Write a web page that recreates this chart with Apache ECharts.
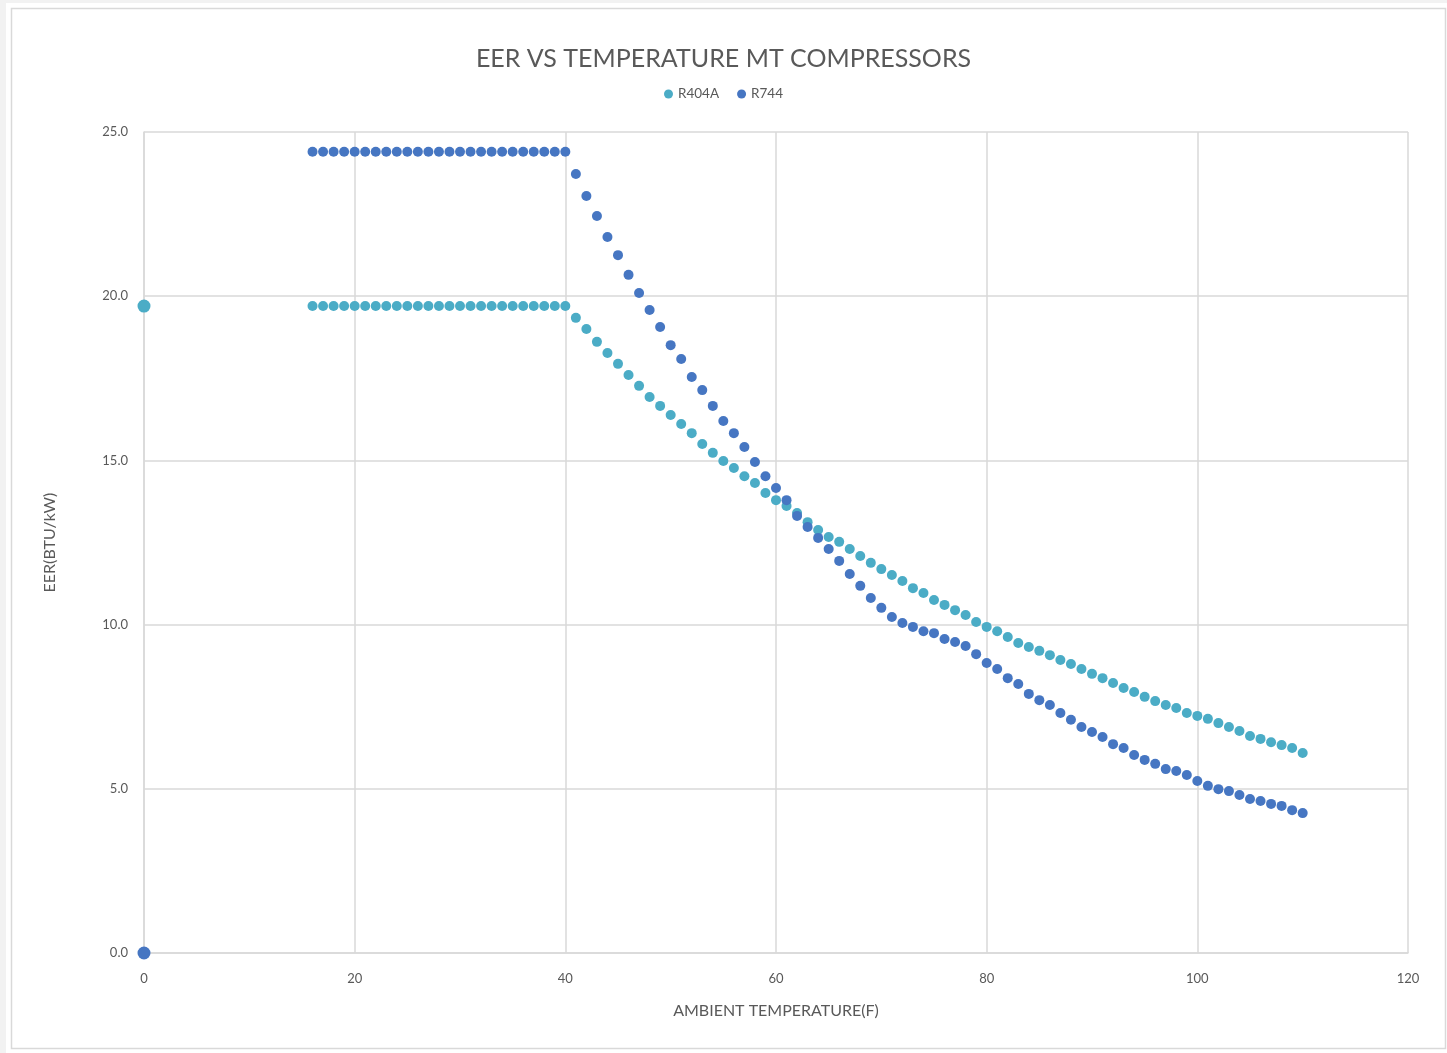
<!DOCTYPE html>
<html>
<head>
<meta charset="utf-8">
<script src="https://cdn.jsdelivr.net/npm/echarts@6/dist/echarts.min.js"></script>
<style>
html,body{margin:0;padding:0;background:#f2f2f2;}
#chart{position:absolute;left:0;top:0;width:1447px;height:1053px;}
</style>
</head>
<body>
<div id="chart"></div>
<script>
// Ambient temperature (F)
const temps = [16,17,18,19,20,21,22,23,24,25,26,27,28,29,30,31,32,33,34,35,36,37,38,39,40,
  41,42,43,44,45,46,47,48,49,50,51,52,53,54,55,56,57,58,59,60,
  61,62,63,64,65,66,67,68,69,70,71,72,73,74,75,76,77,78,79,80,
  81,82,83,84,85,86,87,88,89,90,91,92,93,94,95,96,97,98,99,100,
  101,102,103,104,105,106,107,108,109,110];
// EER values R404A
const r404a = [19.7,19.7,19.7,19.7,19.7,19.7,19.7,19.7,19.7,19.7,19.7,19.7,19.7,19.7,19.7,19.7,19.7,19.7,19.7,19.7,19.7,19.7,19.7,19.7,19.7,
  19.34,19.00,18.61,18.27,17.94,17.60,17.27,16.93,16.66,16.38,16.11,15.83,15.50,15.23,14.98,14.77,14.52,14.31,14.01,13.79,
  13.61,13.40,13.12,12.88,12.67,12.52,12.30,12.09,11.88,11.69,11.51,11.33,11.11,10.96,10.75,10.60,10.44,10.29,10.08,9.93,
  9.80,9.62,9.44,9.32,9.20,9.07,8.92,8.80,8.65,8.50,8.37,8.22,8.07,7.95,7.80,7.67,7.55,7.46,7.31,7.22,
  7.13,7.00,6.88,6.76,6.61,6.52,6.42,6.33,6.24,6.09];
// EER values R744
const r744 = [24.4,24.4,24.4,24.4,24.4,24.4,24.4,24.4,24.4,24.4,24.4,24.4,24.4,24.4,24.4,24.4,24.4,24.4,24.4,24.4,24.4,24.4,24.4,24.4,24.4,
  23.72,23.05,22.44,21.80,21.25,20.65,20.10,19.58,19.06,18.51,18.09,17.54,17.14,16.66,16.20,15.83,15.41,14.95,14.52,14.16,
  13.79,13.31,12.97,12.64,12.30,11.94,11.54,11.18,10.81,10.51,10.23,10.05,9.93,9.80,9.74,9.56,9.47,9.35,9.10,8.83,
  8.65,8.37,8.19,7.89,7.70,7.55,7.31,7.10,6.88,6.73,6.58,6.36,6.24,6.03,5.88,5.76,5.60,5.54,5.42,5.24,
  5.09,4.99,4.93,4.81,4.69,4.63,4.54,4.48,4.35,4.26];
// Extra points plotted at x = 0
const zeroX = 0;
const r404aAtZero = 19.7;
const r744AtZero = 0.0;

const seriesNames = ['R404A','R744'];
const colors = ['#4BACC6','#4676C2'];
const xTicks = [0,20,40,60,80,100,120];
const yTicks = [0,5,10,15,20,25];

function build(zeroVal, vals){
  const d = [{value:[zeroX, zeroVal], symbolSize:13}];
  temps.forEach((t,i)=>d.push([t, vals[i]]));
  return d;
}

const chart = echarts.init(document.getElementById('chart'));
const font = 'Lato, "Open Sans", sans-serif';
chart.setOption({
  backgroundColor:'transparent',
  animation:false,
  graphic:[
    {type:'rect', z:-10, shape:{x:6,y:3,width:1441,height:1050}, style:{fill:'#ffffff'}},
    {type:'rect', z:-9, shape:{x:11.5,y:8.5,width:1434,height:1040}, style:{fill:'#ffffff', stroke:'#d9d9d9', lineWidth:1.5}}
  ],
  title:{
    text:'EER VS TEMPERATURE MT COMPRESSORS',
    left:'center', top:41,
    textStyle:{fontFamily:font, fontSize:25, fontWeight:'normal', color:'#595959'}
  },
  legend:{
    data:seriesNames,
    top:82, left:'center',
    icon:'circle', itemWidth:9, itemHeight:9, itemGap:18,
    textStyle:{fontFamily:font, fontSize:13.5, color:'#595959'}
  },
  grid:{left:144, right:39, top:132, bottom:100, containLabel:false},
  xAxis:{
    type:'value', min:0, max:120, interval:20,
    name:'AMBIENT TEMPERATURE(F)', nameLocation:'middle', nameGap:50,
    nameTextStyle:{fontFamily:font, fontSize:16, color:'#595959'},
    axisLine:{show:true, lineStyle:{color:'#d9d9d9', width:1.5}},
    axisTick:{show:false},
    axisLabel:{fontFamily:font, fontSize:13, color:'#595959', margin:19,
      formatter:v=>xTicks.includes(v)?String(v):''},
    splitLine:{show:true, lineStyle:{color:'#d9d9d9', width:1.5}}
  },
  yAxis:{
    type:'value', min:0, max:25, interval:5,
    name:'EER(BTU/kW)', nameLocation:'middle', nameGap:86, nameRotate:90,
    nameTextStyle:{fontFamily:font, fontSize:16, color:'#595959'},
    axisLine:{show:true, lineStyle:{color:'#d9d9d9', width:1.5}},
    axisTick:{show:false},
    axisLabel:{fontFamily:font, fontSize:13, color:'#595959', margin:16,
      formatter:v=>yTicks.includes(v)?v.toFixed(1):''},
    splitLine:{show:true, lineStyle:{color:'#d9d9d9', width:1.5}}
  },
  series:[
    {name:seriesNames[0], type:'scatter', symbol:'circle', symbolSize:10,
      itemStyle:{color:colors[0], opacity:1}, data:build(r404aAtZero, r404a), z:2},
    {name:seriesNames[1], type:'scatter', symbol:'circle', symbolSize:10,
      itemStyle:{color:colors[1], opacity:1}, data:build(r744AtZero, r744), z:3}
  ]
});
</script>
</body>
</html>
